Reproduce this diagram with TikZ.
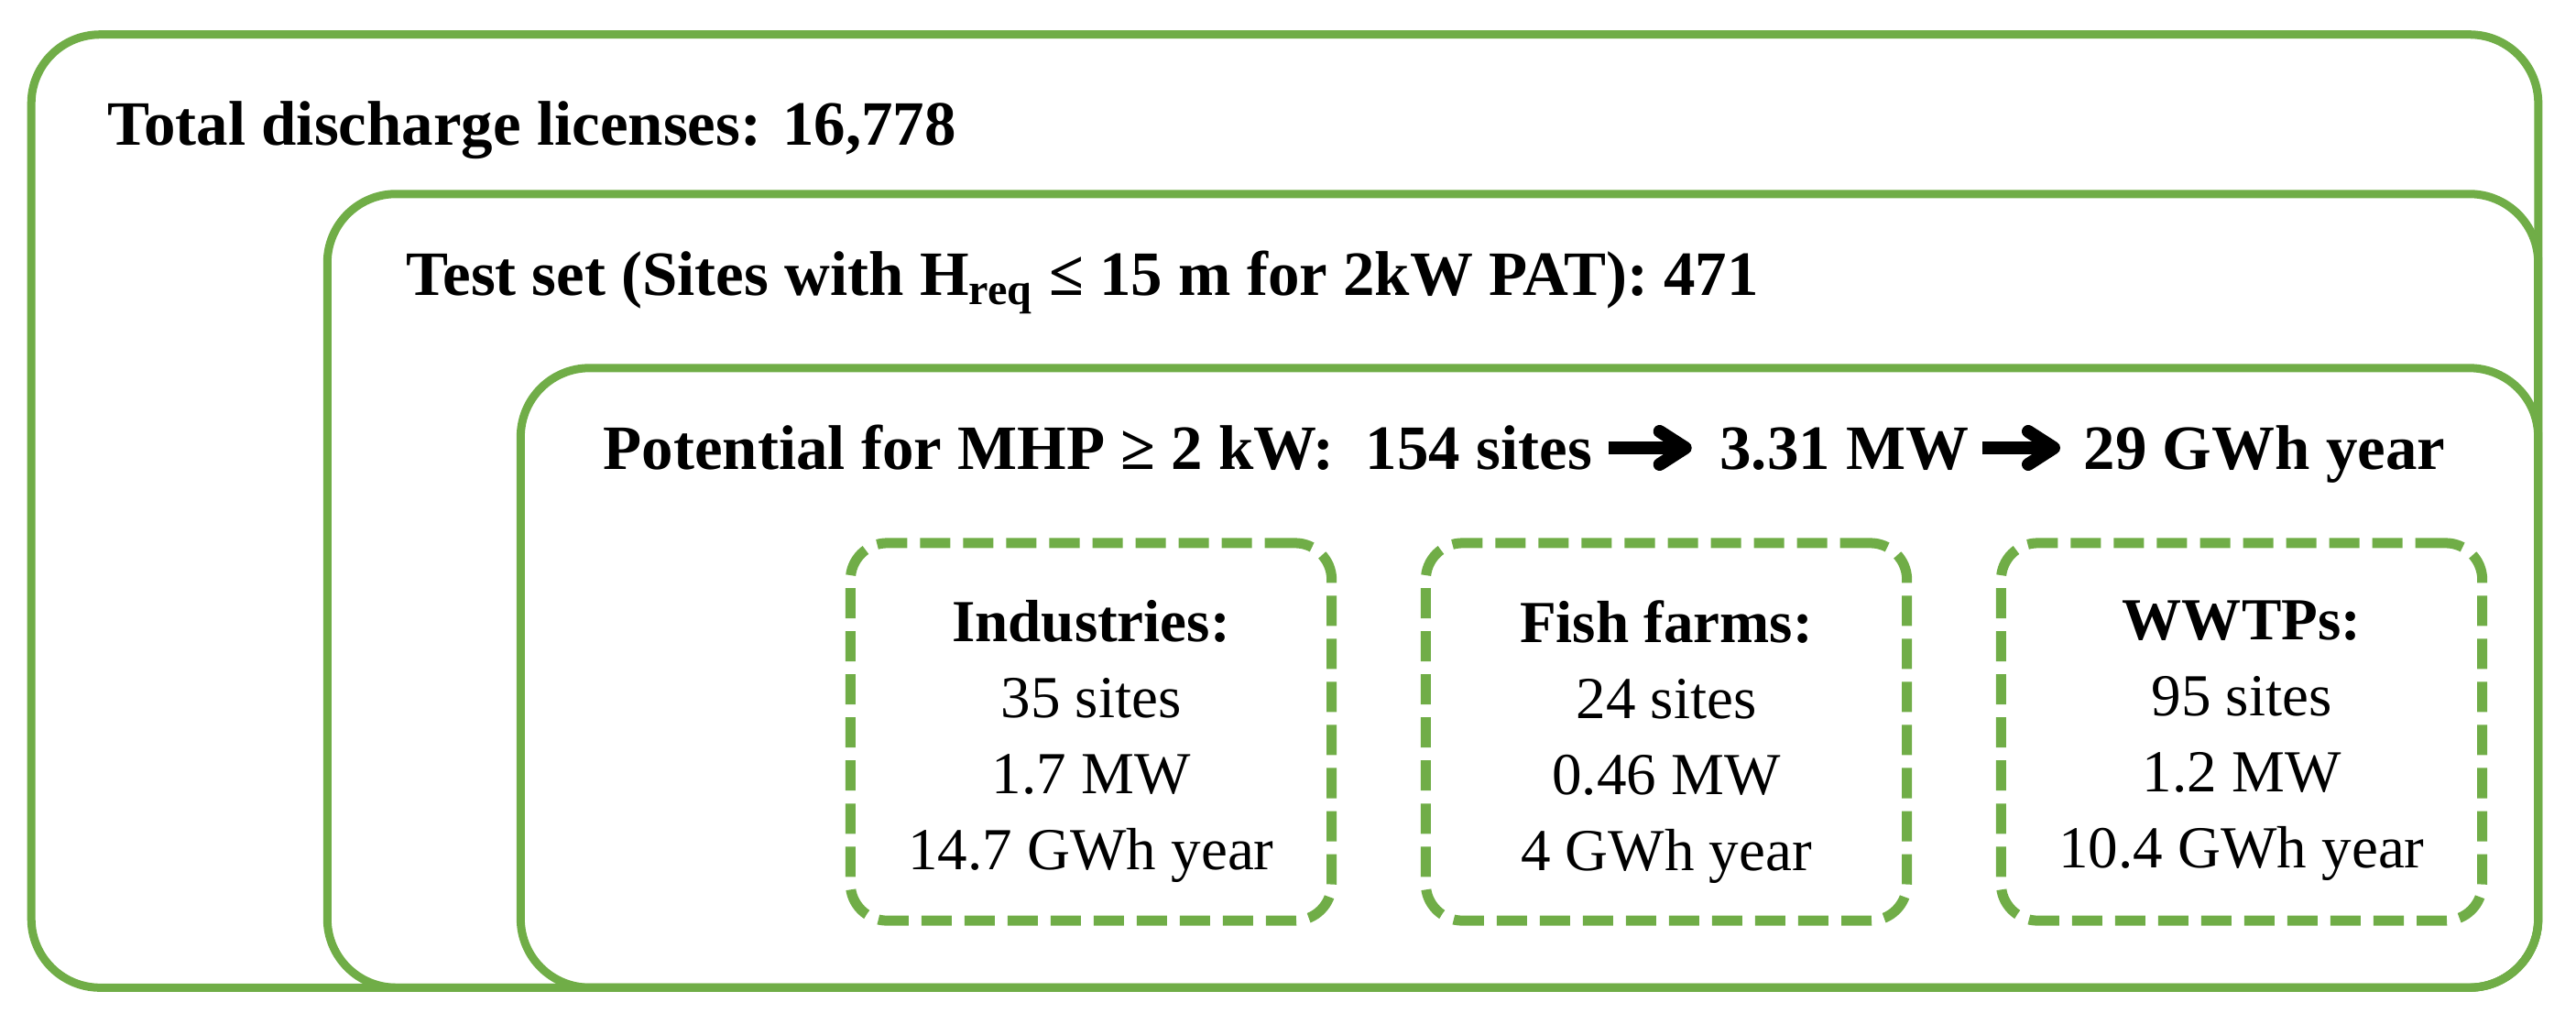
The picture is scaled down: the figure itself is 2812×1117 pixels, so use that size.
\documentclass[tikz,border=0pt]{standalone}
\usepackage{fontspec}
\setmainfont{Liberation Serif}
\usetikzlibrary{arrows.meta}
\definecolor{leaf}{RGB}{112,173,71}
\begin{document}
\begin{tikzpicture}[x=0.01cm,y=-0.01cm,
  frame/.style={draw=leaf, line width=0.09cm, rounded corners=0.75cm, rectangle, inner sep=0pt},
  dbox/.style={draw=leaf, line width=0.11cm, rounded corners=0.4cm, dash pattern=on 0.33cm off 0.14cm, rectangle, minimum width=5.25cm, minimum height=4.12cm, inner sep=0pt},
  head/.style={font=\fontsize{19.6}{23}\selectfont\bfseries, inner sep=0pt, anchor=base west},
  btext/.style={font=\fontsize{18.5}{23.6}\selectfont, align=center, inner sep=0pt, anchor=north},
  bigarrow/.style={line width=0.14cm, -{Straight Barb[length=0.28cm, width=0.36cm, round]}}]
\useasboundingbox (0,0) rectangle (2812,1117);
% nested frames
\node[frame, minimum width=27.35cm, minimum height=10.4cm] (outer) at (1402.5,558) {};
\node[frame, minimum width=24.12cm, minimum height=8.66cm] (second) at (1564,645) {};
\node[frame, minimum width=22.01cm, minimum height=6.76cm] (third) at (1669.5,740) {};
% headings
\node[head] (total) at (117,158) {Total discharge licenses: 16,778};
\node[head] (test) at (443,322) {Test set (Sites with H\textsubscript{req} ≤ 15 m for 2kW PAT): 471};
\node[head] (pot) at (658,512) {Potential for MHP ≥ 2 kW:\ \ 154 sites};
\node[head] (mw) at ([xshift=1.38cm]pot.base east) {3.31 MW};
\node[head] (gwh) at ([xshift=1.24cm]mw.base east) {29 GWh year};
\draw[bigarrow] ([xshift=0.17cm,yshift=0.23cm]pot.base east) -- ([xshift=-0.3cm,yshift=0.23cm]mw.base west);
\draw[bigarrow] ([xshift=0.14cm,yshift=0.23cm]mw.base east) -- ([xshift=-0.25cm,yshift=0.23cm]gwh.base west);
% dashed category boxes
\node[dbox] (ind) at (1191,799) {};
\node[dbox] (fish) at (1819,799) {};
\node[dbox] (wwtp) at (2447,799) {};
\node[btext] (indt) at (1191,655) {\textbf{Industries:}\\35 sites\\1.7 MW\\14.7 GWh year};
\node[btext] (fisht) at (1819,655) {\textbf{Fish farms:}\\24 sites\\0.46 MW\\4 GWh year};
\node[btext] (wwtpt) at (2447,655) {\textbf{WWTPs:}\\95 sites\\1.2 MW\\10.4 GWh year};
\end{tikzpicture}
\end{document}
